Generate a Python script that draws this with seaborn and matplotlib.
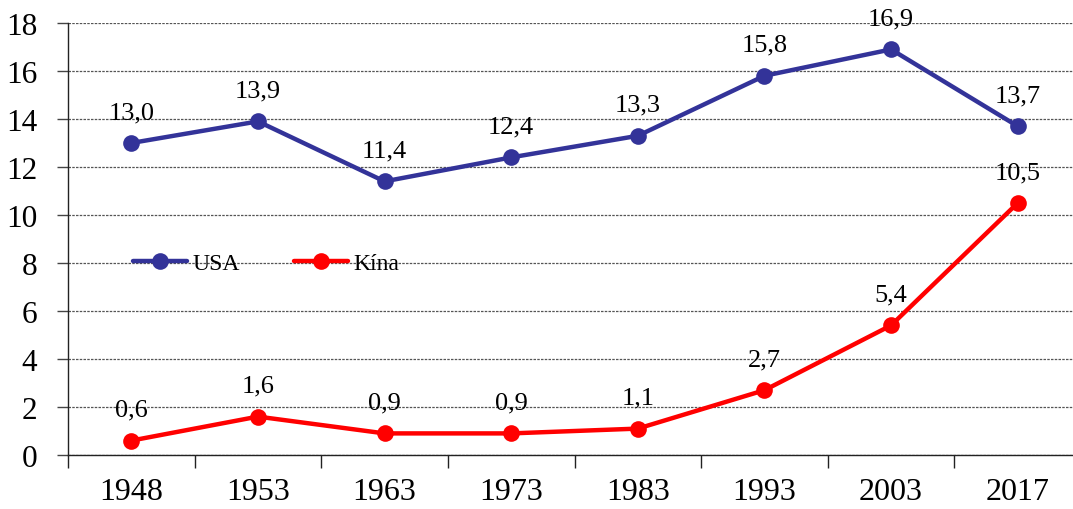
import matplotlib
matplotlib.use("Agg")
import matplotlib.pyplot as plt
import seaborn as sns
import pandas as pd
import numpy as np

years = ["1948", "1953", "1963", "1973", "1983", "1993", "2003", "2017"]
usa = [13.0, 13.9, 11.4, 12.4, 13.3, 15.8, 16.9, 13.7]
kina = [0.6, 1.6, 0.9, 0.9, 1.1, 2.7, 5.4, 10.5]
series_names = ["USA", "Kína"]
colors = ["#333399", "#FF0000"]
yticks = [0, 2, 4, 6, 8, 10, 12, 14, 16, 18]

sns.set_style("white")
plt.rcParams["font.family"] = ["Liberation Serif", "DejaVu Serif"]
plt.rcParams["text.color"] = "black"
plt.rcParams["xtick.color"] = "black"
plt.rcParams["ytick.color"] = "black"

df = pd.DataFrame({
    "pos": list(range(len(years))) * 2,
    "value": usa + kina,
    "series": [series_names[0]] * len(years) + [series_names[1]] * len(years),
})

fig = plt.figure(figsize=(10.73, 5.10), dpi=100)
ax = fig.add_axes([68 / 1073, 54 / 510, (1081 - 68) / 1073, 432 / 510])

sns.lineplot(data=df, x="pos", y="value", hue="series", palette=colors,
             marker="o", markersize=12, markeredgewidth=0, linewidth=3.2,
             ax=ax, legend=True)

for vals in (usa, kina):
    for i, v in enumerate(vals):
        ax.annotate(f"{v:.1f}".replace(".", ","), (i, v), xytext=(0, 18),
                    textcoords="offset points", ha="center", va="baseline",
                    fontsize=19, color="black")

ax.set_xlim(-0.5, len(years) - 0.5)
ax.set_ylim(0, 18)
ax.set_yticks(yticks)
ax.set_yticklabels([str(t) for t in yticks], fontsize=22.5)
ax.set_xticks(range(len(years)))
ax.set_xticklabels(years, fontsize=23)
ax.set_xticks(np.arange(-0.5, len(years), 1), minor=True)
ax.tick_params(axis="x", which="major", bottom=True, length=0, pad=16)
ax.tick_params(axis="x", which="minor", bottom=True, length=9, width=1, color="#222222", direction="out")
ax.tick_params(axis="y", which="major", left=True, length=8, width=1, color="#444444", direction="out", pad=14)
ax.set_xlabel("")
ax.set_ylabel("")
ax.grid(axis="y", linestyle=(0, (2, 1)), color="#555555", linewidth=0.9)
ax.grid(axis="x", visible=False)
for s in ["top", "right"]:
    ax.spines[s].set_visible(False)
for s in ["left", "bottom"]:
    ax.spines[s].set_color("#222222")
    ax.spines[s].set_linewidth(1)

leg = ax.legend(loc="center left", bbox_to_anchor=(0.055, 8 / 18), ncol=2, frameon=False,
                fontsize=17, handlelength=2.3, columnspacing=2.3, handletextpad=0.2,
                borderaxespad=0)
for h in leg.get_lines():
    h.set_linestyle("-")
    h.set_linewidth(3.2)
    h.set_markersize(12)
for t in leg.get_texts():
    t.set_color("black")

fig.savefig("out.png", dpi=100)
